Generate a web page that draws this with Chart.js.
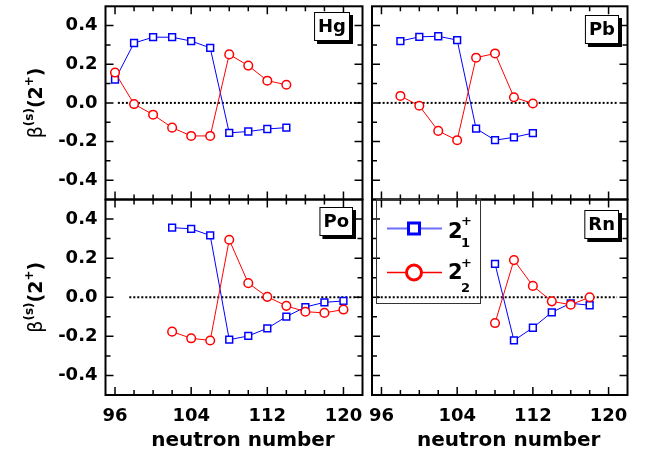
<!DOCTYPE html>
<html>
<head>
<meta charset="utf-8">
<script src="https://cdn.jsdelivr.net/npm/chart.js@4.4.1/dist/chart.umd.min.js"></script>
<style>
  body { margin: 0; background: #fff; }
  #wrap { position: relative; width: 659px; height: 460px; }
  #wrap canvas { position: absolute; left: 0; top: 0; }
</style>
</head>
<body>
<div id="wrap">
  <canvas id="hg" width="659" height="460"></canvas>
  <canvas id="pb" width="659" height="460"></canvas>
  <canvas id="po" width="659" height="460"></canvas>
  <canvas id="rn" width="659" height="460"></canvas>
</div>
<script>
const FONT = '"DejaVu Sans", sans-serif';

// neutron numbers and beta(s)(2+) for the 2_1+ and 2_2+ states
const hgN  = [96, 98, 100, 102, 104, 106, 108, 110, 112, 114];
const hgB1 = [0.12, 0.31, 0.34, 0.34, 0.32, 0.285, -0.155, -0.148, -0.135, -0.128];
const hgB2 = [0.157, -0.006, -0.061, -0.128, -0.171, -0.171, 0.251, 0.193, 0.115, 0.094];

const pbN  = [98, 100, 102, 104, 106, 108, 110, 112];
const pbB1 = [0.32, 0.342, 0.345, 0.325, -0.133, -0.193, -0.178, -0.156];
const pbB2 = [0.036, -0.015, -0.145, -0.193, 0.234, 0.256, 0.029, -0.003];

const poN  = [102, 104, 106, 108, 110, 112, 114, 116, 118, 120];
const poB1 = [0.356, 0.350, 0.316, -0.217, -0.198, -0.159, -0.099, -0.050, -0.026, -0.019];
const poB2 = [-0.176, -0.210, -0.221, 0.294, 0.072, 0.002, -0.044, -0.074, -0.080, -0.063];

const rnN  = [108, 110, 112, 114, 116, 118];
const rnB1 = [0.171, -0.221, -0.156, -0.077, -0.031, -0.041];
const rnB2 = [-0.132, 0.190, 0.058, -0.021, -0.038, 0.0];

const xTicks = [96, 104, 112, 120];
const yTicks = [0.4, 0.2, 0.0, -0.2, -0.4];

// dotted zero line extent (neutron number) per panel
const zeroFrom = [96.3, 95.7, 97.5, 95.5];
const zeroTo   = [122, 120.9, 122, 120.9];

const cols = [[105.5, 362.5], [372, 627.5]];
const rows = [[4.5, 199.5], [199.5, 395]];

const panels = [
  { id: 'hg', name: 'Hg', n: hgN, b1: hgB1, b2: hgB2, col: 0, row: 0, boxRight: 350, boxTop: 12 },
  { id: 'pb', name: 'Pb', n: pbN, b1: pbB1, b2: pbB2, col: 1, row: 0, boxRight: 619, boxTop: 15 },
  { id: 'po', name: 'Po', n: poN, b1: poB1, b2: poB2, col: 0, row: 1, boxRight: 353, boxTop: 207 },
  { id: 'rn', name: 'Rn', n: rnN, b1: rnB1, b2: rnB2, col: 1, row: 1, boxRight: 619, boxTop: 210 }
];

function drawYTitle(ctx, cx, cy) {
  const parts = [
    { t: 'β', f: `19px ${FONT}`, dy: 0 },
    { t: '(s)', f: `bold 12px ${FONT}`, dy: -9 },
    { t: '(2', f: `bold 19px ${FONT}`, dy: 0 },
    { t: '+', f: `bold 12px ${FONT}`, dy: -9 },
    { t: ')', f: `bold 19px ${FONT}`, dy: 0 }
  ];
  ctx.save();
  ctx.translate(cx, cy);
  ctx.rotate(-Math.PI / 2);
  ctx.textAlign = 'left';
  ctx.textBaseline = 'alphabetic';
  let total = 0;
  parts.forEach(p => { ctx.font = p.f; p.w = ctx.measureText(p.t).width; total += p.w; });
  let x = -total / 2;
  parts.forEach(p => { ctx.font = p.f; ctx.fillText(p.t, x, p.dy); x += p.w; });
  ctx.restore();
}

function drawLegend(ctx) {
  ctx.save();
  ctx.strokeStyle = '#333';
  ctx.lineWidth = 1;
  ctx.strokeRect(376.5, 199.5, 104, 104);

  ctx.strokeStyle = '#6f6fff';
  ctx.lineWidth = 2;
  ctx.beginPath(); ctx.moveTo(387, 228.5); ctx.lineTo(442, 228.5); ctx.stroke();
  ctx.fillStyle = '#fff';
  ctx.strokeStyle = '#0000ff';
  ctx.lineWidth = 3;
  ctx.fillRect(408.5, 223, 11, 11);
  ctx.strokeRect(408.5, 223, 11, 11);

  ctx.strokeStyle = '#ff0000';
  ctx.lineWidth = 1.5;
  ctx.beginPath(); ctx.moveTo(387, 272.5); ctx.lineTo(442, 272.5); ctx.stroke();
  ctx.lineWidth = 3;
  ctx.beginPath(); ctx.arc(414, 272.5, 7.5, 0, Math.PI * 2); ctx.fill(); ctx.stroke();

  ctx.fillStyle = '#000';
  ctx.textAlign = 'left';
  ctx.textBaseline = 'alphabetic';
  [[238, '1', 225, 247], [279, '2', 267, 292]].forEach(([base, sub, supY, subY]) => {
    ctx.font = `bold 21px ${FONT}`;
    ctx.fillText('2', 448, base);
    ctx.font = `bold 13px ${FONT}`;
    ctx.fillText('+', 461, supY);
    ctx.fillText(sub, 461, subY);
  });
  ctx.restore();
}

const framePlugin = {
  id: 'frame',
  afterDraw(chart, args, opts) {
    const { ctx, chartArea: a, scales: { x, y } } = chart;
    ctx.save();
    ctx.strokeStyle = '#000';
    ctx.lineWidth = 1.5;
    ctx.beginPath();
    for (let v = 96; v <= 120; v += 2) {
      const px = x.getPixelForValue(v);
      const len = v % 8 === 0 ? 8 : 5;
      ctx.moveTo(px, a.bottom); ctx.lineTo(px, a.bottom - len);
      ctx.moveTo(px, a.top); ctx.lineTo(px, a.top + len);
    }
    for (let i = -4; i <= 4; i++) {
      const py = y.getPixelForValue(i / 10);
      const len = i % 2 === 0 ? 8 : 5;
      ctx.moveTo(a.left, py); ctx.lineTo(a.left + len, py);
      ctx.moveTo(a.right, py); ctx.lineTo(a.right - len, py);
    }
    ctx.stroke();
    ctx.lineWidth = 2;
    ctx.strokeRect(a.left, a.top, a.right - a.left, a.bottom - a.top);

    ctx.fillStyle = '#000';
    ctx.font = `bold 18px ${FONT}`;
    if (opts.yLabels) {
      ctx.textAlign = 'right';
      ctx.textBaseline = 'middle';
      yTicks.forEach(v => ctx.fillText(v.toFixed(1), a.left - 8, y.getPixelForValue(v)));
      drawYTitle(ctx, 42, (a.top + a.bottom) / 2);
    }
    if (opts.xLabels) {
      ctx.textAlign = 'center';
      ctx.textBaseline = 'alphabetic';
      xTicks.forEach(v => ctx.fillText(String(v), x.getPixelForValue(v), a.bottom + 26));
      ctx.font = `bold 20px ${FONT}`;
      ctx.fillText('neutron number', (a.left + a.right) / 2 + 9, 446);
    }

    // nucleus label box with shadow
    ctx.font = `bold 18px ${FONT}`;
    const w = ctx.measureText(opts.name).width + 8;
    const h = 29;
    const bx = opts.boxRight - w, by = opts.boxTop;
    ctx.fillStyle = '#000';
    ctx.fillRect(bx + 3, by + 3, w, h);
    ctx.fillStyle = '#fff';
    ctx.fillRect(bx, by, w, h);
    ctx.lineWidth = 1;
    ctx.strokeRect(bx + 0.5, by + 0.5, w - 1, h - 1);
    ctx.fillStyle = '#000';
    ctx.textAlign = 'center';
    ctx.textBaseline = 'middle';
    ctx.fillText(opts.name, bx + w / 2, by + h / 2 + 1);

    if (opts.legend) drawLegend(ctx);
    ctx.restore();
  }
};

panels.forEach((p, k) => {
  const [left, right] = cols[p.col];
  const [top, bottom] = rows[p.row];
  new Chart(document.getElementById(p.id), {
    type: 'scatter',
    data: {
      datasets: [
        {
          label: '2_2+',
          data: p.n.map((n, i) => ({ x: n, y: p.b2[i] })),
          showLine: true,
          borderColor: '#ff0000',
          borderWidth: 1,
          pointStyle: 'circle',
          pointRadius: 4.3,
          pointBorderWidth: 1.5,
          pointBorderColor: '#ff0000',
          pointBackgroundColor: '#fff',
          order: 0
        },
        {
          label: '2_1+',
          data: p.n.map((n, i) => ({ x: n, y: p.b1[i] })),
          showLine: true,
          borderColor: '#0000ff',
          borderWidth: 1,
          pointStyle: 'rect',
          pointRadius: 4.8,
          pointBorderWidth: 1.5,
          pointBorderColor: '#0000ff',
          pointBackgroundColor: '#fff',
          order: 1
        },
        {
          label: 'zero',
          data: [{ x: zeroFrom[k], y: 0 }, { x: zeroTo[k], y: 0 }],
          showLine: true,
          borderColor: '#000',
          borderWidth: 2,
          borderDash: [2, 2],
          pointRadius: 0,
          order: 2
        }
      ]
    },
    options: {
      responsive: false,
      animation: false,
      devicePixelRatio: 1,
      events: [],
      layout: { padding: { left: left, top: top, right: 659 - right, bottom: 460 - bottom } },
      scales: {
        x: { type: 'linear', min: 95, max: 122, display: false },
        y: { type: 'linear', min: -0.5, max: 0.5, display: false }
      },
      plugins: {
        legend: { display: false },
        tooltip: { enabled: false },
        frame: {
          name: p.name,
          boxRight: p.boxRight,
          boxTop: p.boxTop,
          yLabels: p.col === 0,
          xLabels: p.row === 1,
          legend: p.id === 'rn'
        }
      }
    },
    plugins: [framePlugin]
  });
});
</script>
</body>
</html>
